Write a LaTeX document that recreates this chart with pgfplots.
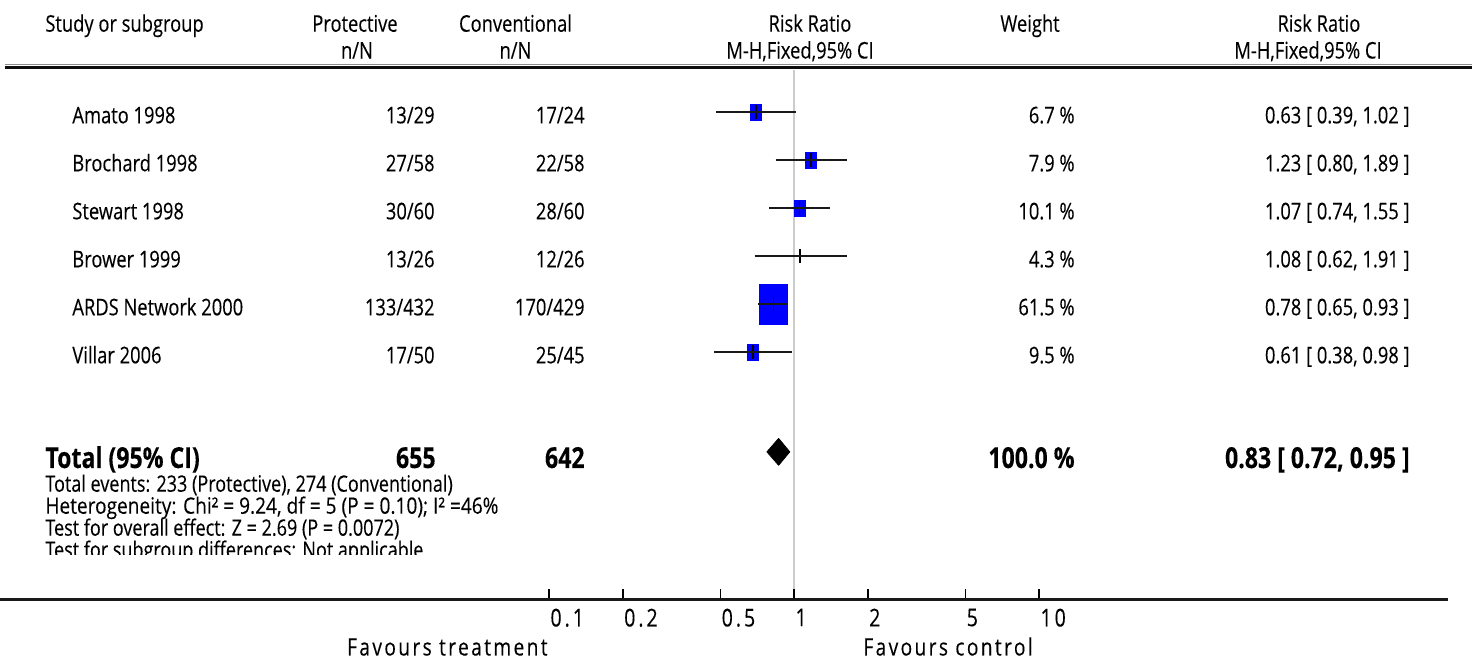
\documentclass[border=0pt]{standalone}
\usepackage{fontspec}
\setmainfont[FakeStretch=0.8, FakeBold=0.2]{Open Sans}
\usepackage{pgfplots}
\usepackage{pgfplotstable}
\pgfplotsset{compat=1.18}

% study data: risk ratio, CI, row
\pgfplotstableread{
rr lo hi row w
0.63 0.39 1.02 1 6.7
1.23 0.80 1.89 2 7.9
1.07 0.74 1.55 3 10.1
1.08 0.62 1.91 4 4.3
0.78 0.65 0.93 5 61.5
0.61 0.38 0.98 6 9.5
}\studies

% CI segments
\pgfplotstableread{
x y
0.39 1
1.02 1
nan nan
0.80 2
1.89 2
nan nan
0.74 3
1.55 3
nan nan
0.62 4
1.91 4
nan nan
0.65 5
0.93 5
nan nan
0.38 6
0.98 6
}\cisegs

\newcommand{\fn}{\fontsize{11.5}{14}\selectfont}
\newcommand{\fb}{\fontsize{14.5}{17}\selectfont\bfseries}
\newcommand{\fs}{\fontsize{11.3}{13}\selectfont}
\newcommand{\ft}{\fontsize{12}{14}\selectfont\addfontfeatures{LetterSpace=10}}
\newcommand{\fl}{\fontsize{12.3}{14}\selectfont\addfontfeatures{LetterSpace=12}}

\begin{document}
\begin{tikzpicture}
% ---------- data axis ----------
\begin{axis}[
  set layers,
  at={(254.5bp,-35bp)}, anchor=north west,
  width=285bp, height=265bp, scale only axis,
  xmode=log, xmin=0.0316228, xmax=31.6228,
  ymin=0.125, ymax=11.1667, y dir=reverse,
  hide axis, clip=false,
  unbounded coords=jump,
]
\addplot[gray!40, line width=1.1bp, on layer=axis background] coordinates {(1,0.125) (1,11.1667)};
% boxes
\addplot[only marks, mark=square*, mark size=4bp, on layer=axis background,
  mark options={xscale=0.69, fill=blue, draw=blue, line width=0pt},
  skip coords between index={3}{5}] table[x=rr, y=row] {\studies};
\addplot[only marks, mark=square*, mark size=10bp, on layer=axis background,
  mark options={xscale=0.7, fill=blue, draw=blue, line width=0pt},
  restrict expr to domain={\coordindex}{4:4}] table[x=rr, y=row] {\studies};
% confidence intervals
\addplot[black!90, line width=1.1bp, on layer=axis foreground] table[x=x, y=y] {\cisegs};
% point estimate ticks
\addplot[only marks, mark=|, mark size=3.6bp, on layer=axis foreground,
  mark options={black, line width=0.9bp}] table[x=rr, y=row] {\studies};
% pooled diamond
\addplot[fill=black, draw=black, line join=round, on layer=axis foreground]
  coordinates {(0.72,8.08) (0.83,7.80) (0.95,8.08) (0.83,8.36)} --cycle;
\end{axis}

% ---------- bottom scale ----------
\begin{axis}[
  at={(0bp,-299.65bp)}, anchor=south west,
  width=724bp, height=20bp, scale only axis,
  xmode=log, xmin=0.000573, xmax=465.8,
  ymin=0, ymax=1,
  axis y line=none, axis x line=bottom,
  x axis line style={-, line width=1.3bp, black!90},
  xtick={0.1,0.2,0.5,1,2,5,10},
  xticklabels={0.1,0.2,0.5,1,2,5,10},
  xminorticks=false,
  xtick align=inside, major tick length=5bp,
  tick style={black, line width=0.9bp},
  /pgf/number format/assume math mode=true,
  x tick label style={anchor=north west, inner sep=0pt, yshift=-4.5bp, xshift=0.4bp, font=\fl},
]
\end{axis}

% ---------- text (pixel units, origin top-left) ----------
\begin{scope}[x=0.5bp, y=-0.5bp, every node/.style={inner sep=0pt, text=black}]
\draw[line width=0.5bp, black!45] (5,65) -- (1472,65);
\draw[line width=1.2bp, black!95] (5,67.5) -- (1472,67.5);
% header
\node[anchor=base west, font=\fn] at (45,31.7) {Study or subgroup};
\node[anchor=base, font=\fn] at (355,31.7) {Protective};
\node[anchor=base, font=\fn] at (357,58.5) {n/N};
\node[anchor=base, font=\fn] at (515.5,31.7) {Conventional};
\node[anchor=base, font=\fn] at (515.5,58.5) {n/N};
\node[anchor=base, font=\fn] at (810,31.7) {Risk Ratio};
\node[anchor=base, font=\fn] at (800,58.5) {M-H,Fixed,95\% CI};
\node[anchor=base west, font=\fn] at (1000,31.7) {Weight};
\node[anchor=base, font=\fn] at (1319,31.7) {Risk Ratio};
\node[anchor=base, font=\fn] at (1308,58.5) {M-H,Fixed,95\% CI};
% rows
\foreach \name/\p/\c/\w/\ci [count=\i from 0] in {
  Amato 1998/13\slash 29/17\slash 24/6.7 \%/0.63 [ 0.39{,} 1.02 ],
  Brochard 1998/27\slash 58/22\slash 58/7.9 \%/1.23 [ 0.80{,} 1.89 ],
  Stewart 1998/30\slash 60/28\slash 60/10.1 \%/1.07 [ 0.74{,} 1.55 ],
  Brower 1999/13\slash 26/12\slash 26/4.3 \%/1.08 [ 0.62{,} 1.91 ],
  ARDS Network 2000/133\slash 432/170\slash 429/61.5 \%/0.78 [ 0.65{,} 0.93 ],
  Villar 2006/17\slash 50/25\slash 45/9.5 \%/0.61 [ 0.38{,} 0.98 ]} {
  \pgfmathsetmacro{\b}{123.3+48*\i}
  \node[anchor=base west, font=\fn] at (72,\b) {\name};
  \node[anchor=base east, font=\fn] at (435,\b) {\p};
  \node[anchor=base east, font=\fn] at (585,\b) {\c};
  \node[anchor=base east, font=\fn] at (1075,\b) {\w};
  \node[anchor=base east, font=\fn] at (1410,\b) {\ci};
}
% total
\node[anchor=base west, font=\fb] at (45,468) {Total (95\% CI)};
\node[anchor=base east, font=\fb] at (436,468) {655};
\node[anchor=base east, font=\fb] at (585,468) {642};
\node[anchor=base east, font=\fb] at (1075,468) {100.0 \%};
\node[anchor=base east, font=\fb] at (1410,468) {0.83 [ 0.72, 0.95 ]};
\node[anchor=base west, font=\fs] at (45,491.7) {Total events: 233 (Protective), 274 (Conventional)};
\node[anchor=base west, font=\fs, xscale=1.06] at (45,513.7) {Heterogeneity: Chi² = 9.24, df = 5 (P = 0.10); I² =46\%};
\node[anchor=base west, font=\fs] at (45,535.7) {Test for overall effect: Z = 2.69 (P = 0.0072)};
\begin{scope}
\clip (0,520) rectangle (1472,555);
\node[anchor=base west, font=\fs] at (45,557.7) {Test for subgroup differences: Not applicable};
\end{scope}
% favours
\node[anchor=base east, font=\ft] at (548,655.5) {Favours treatment};
\node[anchor=base west, font=\ft] at (863,655.5) {Favours control};
\end{scope}

\pgfresetboundingbox
\path[use as bounding box] (0bp,0bp) rectangle (736bp,-331bp);
\end{tikzpicture}
\end{document}
